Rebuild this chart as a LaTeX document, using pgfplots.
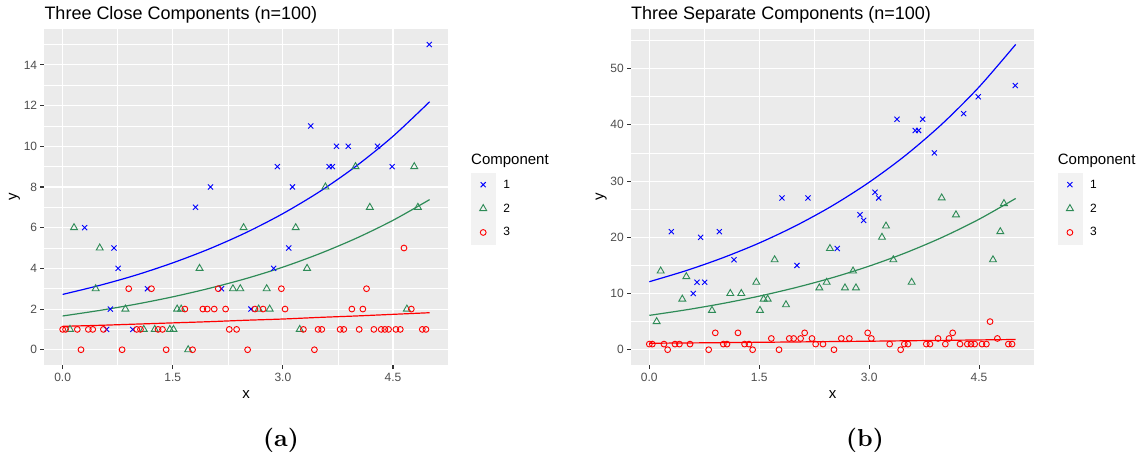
\documentclass[border=0pt]{standalone}
\usepackage{pgfplots}
\usepackage{pgfplotstable}
\pgfplotsset{compat=1.18}
\usepackage{fontspec}
\newfontfamily\ggfont{Liberation Sans}

\definecolor{panelbg}{RGB}{235,235,235}
\definecolor{keybg}{RGB}{242,242,242}
\definecolor{tickgray}{RGB}{51,51,51}
\definecolor{labgray}{RGB}{77,77,77}
\definecolor{compA}{RGB}{0,0,255}
\definecolor{compB}{RGB}{46,139,87}
\definecolor{compC}{RGB}{255,0,0}

% component 1: x, y (close), y (separate)
\pgfplotstableread{
x     ya  yb
0.30  6   21
0.60  1   10
0.65  2   12
0.70  5   20
0.755 4   12
0.955 1   21
1.155 3   16
1.81  7   27
2.015 8   15
2.165 3   27
2.565 2   18
2.875 4   24
2.925 9   23
3.08  5   28
3.13  8   27
3.38  11  41
3.63  9   39
3.675 9   39
3.73  10  41
3.89  10  35
4.29  10  42
4.49  9   45
4.995 15  47
}\compone

% component 2
\pgfplotstableread{
x     ya  yb
0.10  1   5
0.155 6   14
0.45  3   9
0.505 5   13
0.855 2   7
1.105 1   10
1.255 1   10
1.46  1   12
1.51  1   7
1.56  2   9
1.615 2   9
1.71  0   16
1.865 4   8
2.32  3   11
2.42  3   12
2.465 6   18
2.67  2   11
2.78  3   14
2.82  2   11
3.175 6   20
3.23  1   22
3.33  4   16
3.58  8   12
3.99  9   27
4.185 7   24
4.69  2   16
4.79  9   21
4.84  7   26
}\comptwo

% component 3 (same counts in both settings)
\pgfplotstableread{
x     y
0.00  1
0.04  1
0.20  1
0.25  0
0.35  1
0.41  1
0.555 1
0.81  0
0.90  3
1.01  1
1.06  1
1.21  3
1.30  1
1.36  1
1.41  0
1.665 2
1.77  0
1.91  2
1.97  2
2.065 2
2.12  3
2.22  2
2.27  1
2.37  1
2.52  0
2.62  2
2.73  2
2.98  3
3.03  2
3.28  1
3.43  0
3.48  1
3.53  1
3.78  1
3.83  1
3.94  2
4.04  1
4.09  2
4.14  3
4.24  1
4.34  1
4.39  1
4.44  1
4.54  1
4.60  1
4.65  5
4.75  2
4.90  1
4.95  1
}\compthree

% fitted mean curves
\pgfplotstableread{
x    a1    a2    a3    b1    b2
0.0  2.72  1.66  1.15  12.10  6.11
0.5  3.16  1.93  1.20  14.06  7.09
1.0  3.67  2.24  1.26  16.34  8.22
1.5  4.27  2.60  1.32  18.98  9.53
2.0  4.96  3.02  1.38  22.06  11.06
2.5  5.76  3.50  1.45  25.63  12.82
3.0  6.69  4.06  1.51  29.79  14.87
3.5  7.77  4.72  1.59  34.61  17.25
4.0  9.03  5.48  1.66  40.22  20.01
4.5  10.49 6.36  1.74  46.74  23.21
5.0  12.19 7.38  1.82  54.31  26.91
}\fits

\pgfplotsset{
  ggpanel/.style={
    scale only axis,
    height=335.7pt,
    xmin=-0.25, xmax=5.25,
    axis background/.style={fill=panelbg},
    axis line style={draw=none},
    tick align=outside,
    xtick pos=left, ytick pos=left,
    major tick length=4pt,
    minor tick length=0pt,
    tick style={tickgray, line width=1.1pt},
    grid=both,
    major grid style={white, line width=1.1pt},
    minor grid style={white, line width=0.55pt},
    xtick={0,1.5,3,4.5},
    xticklabels={0.0,1.5,3.0,4.5},
    minor xtick={0.75,2.25,3.75,5.25},
    /pgf/number format/assume math mode=true,
    tick label style={font=\ggfont\fontsize{12}{14}\selectfont, text=labgray},
    xticklabel style={anchor=north, inner sep=0pt, yshift=-4pt},
    yticklabel style={anchor=east, inner sep=0pt, xshift=-3pt},
    label style={font=\ggfont\fontsize{15}{18}\selectfont, text=black},
    xlabel={x}, ylabel={y},
    xlabel style={at={(axis description cs:0.5,0)}, anchor=base, yshift=-33pt},
    ylabel style={at={(axis description cs:-0.0681,0.5)}, anchor=base},
    legend cell align=left,
    legend style={anchor=north west, draw=none, fill=none,
      inner sep=0pt, outer sep=0pt, row sep=0pt,
      font=\ggfont\fontsize{12}{14}\selectfont,
      nodes={inner sep=0pt, text=black}},
    legend image code/.code={%
      \fill[keybg] (-12pt,-11.75pt) rectangle (12pt,11.75pt);
      \path (20pt,0pt);
      \draw[only marks] plot coordinates {(0pt,0pt)};%
    },
  },
  compAstyle/.style={only marks, color=compA, mark=x, mark size=3.6pt, mark options={line width=0.9pt}},
  compBstyle/.style={only marks, color=compB, mark=triangle, mark size=4pt, mark options={line width=0.9pt}},
  compCstyle/.style={only marks, color=compC, mark=o, mark size=2.9pt, mark options={line width=0.9pt}},
  fitline/.style={no marks, smooth, line width=1.2pt, forget plot},
}

\begin{document}
\begin{tikzpicture}
\path[use as bounding box] (0,0) rectangle (1147pt,461pt);

% ---- close components ----
\begin{axis}[ggpanel, width=403.7pt,
  at={(44.3pt,96pt)}, anchor=south west,
  ymin=-0.75, ymax=15.75,
  ytick={0,2,...,14}, minor ytick={1,3,...,15},
  legend style={at={(axis description cs:1.057,0.5728)}}]
\addplot[compAstyle] table[x=x, y=ya] {\compone};
\addplot[compBstyle] table[x=x, y=ya] {\comptwo};
\addplot[compCstyle] table[x=x, y=y] {\compthree};
\addplot[fitline, compA] table[x=x, y=a1] {\fits};
\addplot[fitline, compB] table[x=x, y=a2] {\fits};
\addplot[fitline, compC] table[x=x, y=a3] {\fits};
\legend{1,2,3}
\end{axis}

% ---- separate components ----
\begin{axis}[ggpanel, width=403pt,
  at={(631pt,96pt)}, anchor=south west,
  ymin=-2.72, ymax=57.0,
  ytick={0,10,...,50}, minor ytick={5,15,...,55},
  legend style={at={(axis description cs:1.0588,0.5728)}}]
\addplot[compAstyle] table[x=x, y=yb] {\compone};
\addplot[compBstyle] table[x=x, y=yb] {\comptwo};
\addplot[compCstyle] table[x=x, y=y] {\compthree};
\addplot[fitline, compA] table[x=x, y=b1] {\fits};
\addplot[fitline, compB] table[x=x, y=b2] {\fits};
\addplot[fitline, compC] table[x=x, y=a3] {\fits};
\legend{1,2,3}
\end{axis}

% titles
\node[anchor=base west, inner sep=0pt, font=\ggfont\fontsize{18}{21}\selectfont] at (44.3pt,441.7pt) {Three Close Components (n=100)};
\node[anchor=base west, inner sep=0pt, font=\ggfont\fontsize{18}{21}\selectfont] at (631pt,441.7pt) {Three Separate Components (n=100)};

% legend titles
\node[anchor=base west, inner sep=0pt, font=\ggfont\fontsize{15}{18}\selectfont] at (471pt,296.6pt) {Component};
\node[anchor=base west, inner sep=0pt, font=\ggfont\fontsize{15}{18}\selectfont] at (1057.7pt,296.6pt) {Component};

% sub-captions
\node[font=\fontsize{10}{12}\selectfont] at (281pt,21pt) {\scalebox{2.45}{\textbf{(a)}}};
\node[font=\fontsize{10}{12}\selectfont] at (865pt,21pt) {\scalebox{2.45}{\textbf{(b)}}};
\end{tikzpicture}
\end{document}
